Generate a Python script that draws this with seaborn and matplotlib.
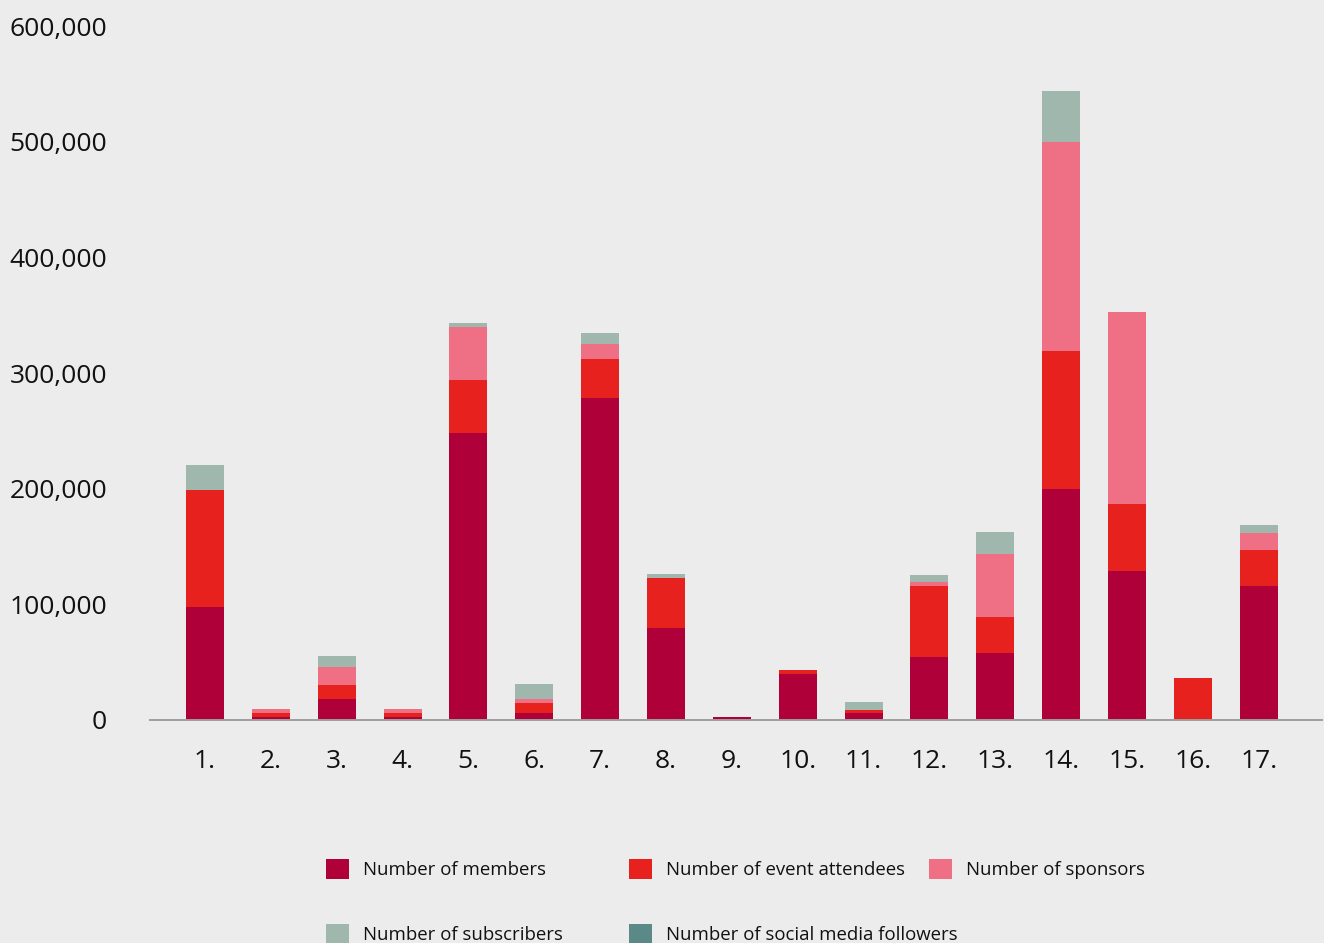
import matplotlib
matplotlib.use("Agg")
import matplotlib.pyplot as plt
from matplotlib.patches import Patch
from matplotlib.ticker import FuncFormatter
import numpy as np
import pandas as pd
import seaborn as sns

# Categories and stacked series values
categories = ["1.", "2.", "3.", "4.", "5.", "6.", "7.", "8.", "9.", "10.",
              "11.", "12.", "13.", "14.", "15.", "16.", "17."]
members = [98000, 2600, 18000, 2600, 248000, 6000, 278000, 79500, 2600, 40000,
           6000, 54500, 58000, 200000, 129000, 0, 116000]
event_attendees = [101000, 3500, 12000, 3500, 46000, 8700, 34000, 43500, 0, 3000,
                   2600, 61500, 31000, 119000, 58000, 36000, 31000]
sponsors = [0, 3500, 16000, 3500, 46000, 3300, 13000, 0, 0, 0,
            0, 3500, 54500, 181000, 166000, 0, 14500]
subscribers = [21500, 0, 9000, 0, 3500, 13000, 9500, 3000, 0, 0,
               7000, 6000, 19000, 44000, 0, 0, 7000]
social_media_followers = [0] * 17

series_labels = ["Number of members", "Number of event attendees", "Number of sponsors",
                 "Number of subscribers", "Number of social media followers"]
series_colors = ["#B0003A", "#E6211E", "#EF6F85", "#A0B7AE", "#5B8988"]
y_ticks = [0, 100000, 200000, 300000, 400000, 500000, 600000]

bg = "#ECECEC"
sns.set_theme(style="white")
plt.rcParams["font.family"] = ["Open Sans", "DejaVu Sans"]

fig = plt.figure(figsize=(13.24, 9.43), dpi=100, facecolor=bg)
ax = fig.add_axes([0.1133, 0.2365, 0.885, 0.7359])
ax.set_facecolor(bg)

df = pd.DataFrame({
    "category": categories,
    series_labels[0]: members,
    series_labels[1]: event_attendees,
    series_labels[2]: sponsors,
    series_labels[3]: subscribers,
    series_labels[4]: social_media_followers,
})

# Stacked bars: draw cumulative totals from the top layer down
cum = df[series_labels].cumsum(axis=1)
for label, color in reversed(list(zip(series_labels, series_colors))):
    sns.barplot(x=df["category"], y=cum[label], color=color, saturation=1,
                width=0.577, linewidth=0, errorbar=None, ax=ax)

ax.set_xlim(-0.835, 16.956)
ax.set_ylim(0, 600000)
ax.set_yticks(y_ticks)
ax.yaxis.set_major_formatter(FuncFormatter(lambda v, p: f"{v:,.0f}"))
ax.set_xlabel("")
ax.set_ylabel("")
ax.tick_params(axis="y", length=0, pad=31, labelsize=19, labelcolor="#111111")
ax.tick_params(axis="x", length=0, pad=21, labelsize=19, labelcolor="#111111")
for lbl in ax.get_yticklabels():
    lbl.set_horizontalalignment("right")

for side in ["top", "right", "left"]:
    ax.spines[side].set_visible(False)
ax.spines["bottom"].set_color("#9E9E9E")
ax.spines["bottom"].set_linewidth(1.4)
ax.grid(False)

# Legend laid out as a fixed grid of columns
handles = [Patch(facecolor=c, edgecolor="none") for c in series_colors]
columns = [([0, 3], 326), ([1, 4], 629), ([2], 929)]
for idx, x_px in columns:
    leg = fig.legend([handles[i] for i in idx], [series_labels[i] for i in idx],
                     loc="upper left", bbox_to_anchor=(x_px / 1324, 1 - 859 / 943),
                     frameon=False, fontsize=13.4, borderpad=0, borderaxespad=0,
                     handlelength=1.25, handleheight=1.3, handletextpad=0.75,
                     labelspacing=2.4)
    for t in leg.get_texts():
        t.set_color("#111111")

fig.savefig("out.png", dpi=100, facecolor=bg)
